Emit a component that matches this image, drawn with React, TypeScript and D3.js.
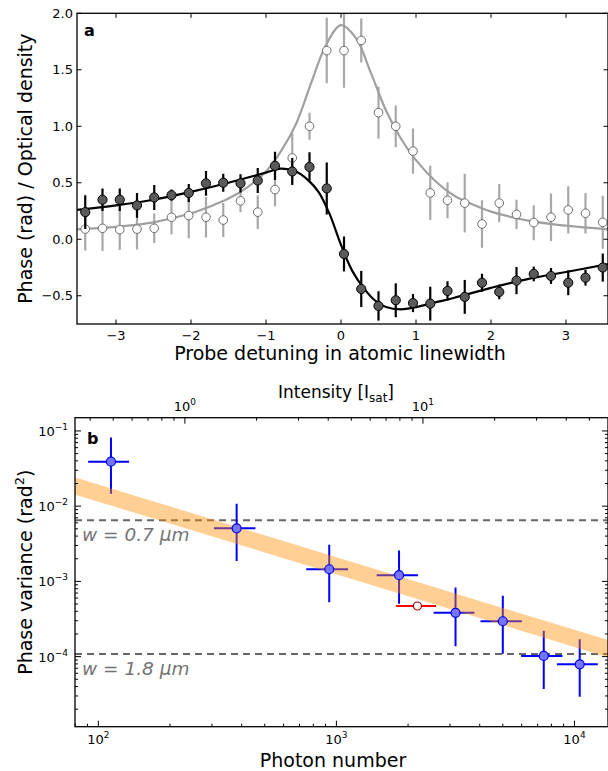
import * as d3 from 'd3';

// ---- panel a data ----
const detuning = [-3.41, -3.18, -2.95, -2.72, -2.49, -2.26, -2.03, -1.8, -1.57, -1.34, -1.11, -0.88, -0.65, -0.42, -0.19, 0.04, 0.27, 0.5, 0.73, 0.96, 1.19, 1.42, 1.65, 1.88, 2.11, 2.34, 2.57, 2.8, 3.03, 3.26, 3.49];
const phase = [0.24, 0.35, 0.35, 0.3, 0.37, 0.39, 0.41, 0.495, 0.5, 0.495, 0.52, 0.65, 0.6, 0.64, 0.45, -0.13, -0.44, -0.59, -0.54, -0.565, -0.57, -0.457, -0.51, -0.385, -0.466, -0.366, -0.307, -0.325, -0.385, -0.34, -0.25];
const phaseErr = [0.15, 0.1, 0.1, 0.11, 0.11, 0.05, 0.08, 0.11, 0.08, 0.08, 0.11, 0.125, 0.12, 0.13, 0.23, 0.155, 0.16, 0.13, 0.15, 0.08, 0.15, 0.085, 0.15, 0.08, 0.065, 0.12, 0.065, 0.07, 0.11, 0.07, 0.125];
const od = [0.09, 0.097, 0.085, 0.09, 0.097, 0.195, 0.21, 0.195, 0.17, 0.34, 0.24, 0.44, 0.72, 1.0, 1.67, 1.67, 1.76, 1.12, 1.0, 0.78, 0.41, 0.345, 0.32, 0.135, 0.32, 0.22, 0.147, 0.195, 0.26, 0.23, 0.15];
const odErr = [0.19, 0.2, 0.18, 0.18, 0.13, 0.15, 0.2, 0.18, 0.15, 0.1, 0.15, 0.15, 0.22, 0.12, 0.29, 0.33, 0.195, 0.23, 0.185, 0.2, 0.24, 0.16, 0.26, 0.21, 0.17, 0.13, 0.155, 0.21, 0.21, 0.18, 0.235];

// fitted curves
const odFitX = [-3.52, -3, -2.5, -2, -1.75, -1.5, -1.25, -1.0, -0.8, -0.6, -0.4, -0.2, 0, 0.2, 0.4, 0.6, 0.8, 1.0, 1.25, 1.5, 1.75, 2, 2.5, 3, 3.56];
const odFitY = [0.088, 0.11, 0.15, 0.23, 0.29, 0.36, 0.46, 0.6, 0.78, 1.02, 1.38, 1.72, 1.895, 1.78, 1.47, 1.14, 0.89, 0.7, 0.52, 0.39, 0.31, 0.245, 0.165, 0.12, 0.088];
const phaseFitX = [-3.52, -3, -2.5, -2, -1.5, -1.0, -0.8, -0.6, -0.45, -0.3, -0.15, 0, 0.15, 0.3, 0.45, 0.6, 0.8, 1.0, 1.25, 1.5, 2, 2.5, 3, 3.56];
const phaseFitY = [0.26, 0.3, 0.35, 0.42, 0.5, 0.59, 0.625, 0.6, 0.53, 0.42, 0.22, -0.05, -0.28, -0.43, -0.54, -0.6, -0.62, -0.6, -0.56, -0.52, -0.43, -0.35, -0.29, -0.22];

const aXTicks = [-3, -2, -1, 0, 1, 2, 3];
const aYTicks = [-0.5, 0, 0.5, 1.0, 1.5, 2.0];

// ---- panel b data ----
const photonN = [113, 381, 933, 1833, 3165, 5000, 7430, 10520];
const photonLo = [90.6, 306, 747, 1476, 2560, 4030, 5970, 8440];
const photonHi = [134.6, 457, 1120, 2200, 3800, 6010, 8900, 12530];
const variance = [0.039, 5.07e-3, 1.45e-3, 1.21e-3, 3.82e-4, 2.95e-4, 1.02e-4, 7.9e-5];
const varLo = [0.0146, 1.86e-3, 5.3e-4, 5.06e-4, 1.37e-4, 1.09e-4, 3.7e-5, 2.93e-5];
const varHi = [0.0816, 0.01076, 3.07e-3, 2.57e-3, 8.3e-4, 6.45e-4, 2.21e-4, 1.7e-4];

const redN = [2190];
const redLo = [1780];
const redHi = [2620];
const redVar = [4.71e-4];

const bandN = [80, 14000];
const bandVar = [0.0185, 1.26e-4];
const bandFactor = 1.3;

const limitVar = [6.5e-3, 1.08e-4];
const limitLabel = ['w = 0.7 μm', 'w = 1.8 μm'];

const photonsPerIsat = 231;
const bXTicks = [2, 3, 4];
const bYTicks = [-1, -2, -3, -4];
const intensityTicks = [0, 1];

const FONT = 'DejaVu Sans';

const W = 608;
const H = 771;

const xA = d3.scaleLinear().domain([-3.52, 3.56]).range([77, 608]);
const yA = d3.scaleLinear().domain([-0.75, 2.0]).range([324, 13.3]);
const xB = d3.scaleLog().domain([79.8, 13830]).range([75, 608]);
const yB = d3.scaleLog().domain([1.17e-5, 0.15]).range([726.7, 417.7]);
const xI = d3.scaleLog().domain([79.8 / photonsPerIsat, 13830 / photonsPerIsat]).range([75, 608]);

const minus = (s: string) => s.replace('-', '\u2212');

const logMinors = (domain: number[]) => {
  const out: number[] = [];
  const lo = Math.floor(Math.log10(domain[0]));
  const hi = Math.ceil(Math.log10(domain[1]));
  for (let k = lo; k <= hi; k++) {
    for (let m = 2; m <= 9; m++) {
      const v = m * Math.pow(10, k);
      if (v >= domain[0] && v <= domain[1]) out.push(v);
    }
  }
  return out;
};

const Pow = ({ x, y, exp, anchor = 'middle' }: any) => (
  <text x={x} y={y} textAnchor={anchor} fontSize={13} fontFamily={FONT} fill="#000">
    <tspan>10</tspan>
    <tspan dy={-6} fontSize={9}>{minus(String(exp))}</tspan>
  </text>
);

export default function App() {
  const fitLine = d3.line<number>().curve(d3.curveCatmullRom.alpha(0.5));
  const odPath = fitLine(odFitX.map((x, i) => [xA(x), yA(odFitY[i])]) as any);
  const phasePath = fitLine(phaseFitX.map((x, i) => [xA(x), yA(phaseFitY[i])]) as any);

  const [aL, aR] = xA.range();
  const [aB, aT] = yA.range();
  const [bL, bR] = xB.range();
  const [bB, bT] = yB.range();

  const band = d3.area<number>()
    .x((d) => xB(bandN[d]))
    .y0((d) => yB(bandVar[d] / bandFactor))
    .y1((d) => yB(bandVar[d] * bandFactor));
  const bandPath = band([0, 1]);

  const xMinors = logMinors(xB.domain());
  const yMinors = logMinors(yB.domain());
  const iMinors = logMinors(xI.domain());

  return (
    <svg width={W} height={H} style={{ position: 'absolute', left: 0, top: 0, background: '#fff' }}
      fontFamily={FONT}>
      <defs>
        <clipPath id="clipA"><rect x={aL} y={aT} width={aR - aL} height={aB - aT} /></clipPath>
        <clipPath id="clipB"><rect x={bL} y={bT} width={bR - bL} height={bB - bT} /></clipPath>
      </defs>

      {/* ===== PANEL A ===== */}
      <g clipPath="url(#clipA)">
        {/* open points: optical density */}
        {detuning.map((x, i) => (
          <line key={'oe' + i} x1={xA(x)} x2={xA(x)} y1={yA(od[i] - odErr[i])} y2={yA(od[i] + odErr[i])}
            stroke="#a8a8a8" strokeWidth={2.2} />
        ))}
        <path d={odPath || ''} fill="none" stroke="#a0a0a0" strokeWidth={2.2} />
        {detuning.map((x, i) => (
          <circle key={'oc' + i} cx={xA(x)} cy={yA(od[i])} r={4.3} fill="#fff" stroke="#6e6e6e" strokeWidth={1} />
        ))}
        {/* filled points: phase */}
        {detuning.map((x, i) => (
          <line key={'pe' + i} x1={xA(x)} x2={xA(x)} y1={yA(phase[i] - phaseErr[i])} y2={yA(phase[i] + phaseErr[i])}
            stroke="#000" strokeWidth={2.2} />
        ))}
        <path d={phasePath || ''} fill="none" stroke="#000" strokeWidth={2.2} />
        {detuning.map((x, i) => (
          <circle key={'pc' + i} cx={xA(x)} cy={yA(phase[i])} r={4.6} fill="#5a5a5a" stroke="#000" strokeWidth={1} />
        ))}
      </g>

      {/* axes a */}
      <g stroke="#000" strokeWidth={1}>
        {aXTicks.map((t) => (
          <g key={'axt' + t}>
            <line x1={xA(t)} x2={xA(t)} y1={aB} y2={aB - 4.5} />
            <line x1={xA(t)} x2={xA(t)} y1={aT} y2={aT + 4.5} />
          </g>
        ))}
        {aYTicks.map((t) => (
          <g key={'ayt' + t}>
            <line x1={aL} x2={aL + 4.5} y1={yA(t)} y2={yA(t)} />
            <line x1={aR} x2={aR - 4.5} y1={yA(t)} y2={yA(t)} />
          </g>
        ))}
        <rect x={aL} y={aT} width={aR - aL} height={aB - aT} fill="none" strokeWidth={1.3} />
      </g>
      {aXTicks.map((t) => (
        <text key={'axl' + t} x={xA(t)} y={aB + 16} textAnchor="middle" fontSize={13}>{minus(String(t))}</text>
      ))}
      {aYTicks.map((t) => (
        <text key={'ayl' + t} x={aL - 4} y={yA(t) + 4.5} textAnchor="end" fontSize={13}>{minus(t.toFixed(1))}</text>
      ))}
      <text x={340} y={360} textAnchor="middle" fontSize={19}>Probe detuning in atomic linewidth</text>
      <text transform={`translate(32,${(aT + aB) / 2}) rotate(-90)`} textAnchor="middle" fontSize={19}>
        Phase (rad) / Optical density
      </text>
      <text x={84} y={36} fontSize={16} fontWeight="bold">a</text>

      {/* ===== PANEL B ===== */}
      <g clipPath="url(#clipB)">
        {limitVar.map((v, i) => (
          <line key={'lim' + i} x1={bL} x2={bR} y1={yB(v)} y2={yB(v)} stroke="#666" strokeWidth={2}
            strokeDasharray="7,5" />
        ))}
        {photonN.map((n, i) => (
          <g key={'be' + i} stroke="#0000ff" strokeWidth={2}>
            <line x1={xB(photonLo[i])} x2={xB(photonHi[i])} y1={yB(variance[i])} y2={yB(variance[i])} />
            <line x1={xB(n)} x2={xB(n)} y1={yB(varLo[i])} y2={yB(varHi[i])} />
          </g>
        ))}
        {redN.map((n, i) => (
          <line key={'re' + i} x1={xB(redLo[i])} x2={xB(redHi[i])} y1={yB(redVar[i])} y2={yB(redVar[i])}
            stroke="#ff0000" strokeWidth={2} />
        ))}
        <path d={bandPath || ''} fill="#ff8c00" fillOpacity={0.42} stroke="none" />
        {photonN.map((n, i) => (
          <circle key={'bc' + i} cx={xB(n)} cy={yB(variance[i])} r={4.5} fill="#7575ff" stroke="#0000ee" strokeWidth={1.2} />
        ))}
        {redN.map((n, i) => (
          <circle key={'rc' + i} cx={xB(n)} cy={yB(redVar[i])} r={4} fill="#fff" stroke="#a00000" strokeWidth={1.2} />
        ))}
      </g>
      {limitLabel.map((s, i) => (
        <text key={'ll' + i} x={82} y={yB(limitVar[i]) + 21} fontSize={18.5} fontStyle="italic" fill="#747474">{s}</text>
      ))}

      {/* axes b */}
      <g stroke="#000" strokeWidth={1}>
        {bXTicks.map((k) => (
          <line key={'bxt' + k} x1={xB(Math.pow(10, k))} x2={xB(Math.pow(10, k))} y1={bB} y2={bB - 6} />
        ))}
        {xMinors.map((v) => (
          <line key={'bxm' + v} x1={xB(v)} x2={xB(v)} y1={bB} y2={bB - 3} />
        ))}
        {intensityTicks.map((k) => (
          <line key={'bit' + k} x1={xI(Math.pow(10, k))} x2={xI(Math.pow(10, k))} y1={bT} y2={bT + 6} />
        ))}
        {iMinors.map((v) => (
          <line key={'bim' + v} x1={xI(v)} x2={xI(v)} y1={bT} y2={bT + 3} />
        ))}
        {bYTicks.map((k) => (
          <g key={'byt' + k}>
            <line x1={bL} x2={bL + 6} y1={yB(Math.pow(10, k))} y2={yB(Math.pow(10, k))} />
            <line x1={bR} x2={bR - 6} y1={yB(Math.pow(10, k))} y2={yB(Math.pow(10, k))} />
          </g>
        ))}
        {yMinors.map((v) => (
          <g key={'bym' + v}>
            <line x1={bL} x2={bL + 3} y1={yB(v)} y2={yB(v)} />
            <line x1={bR} x2={bR - 3} y1={yB(v)} y2={yB(v)} />
          </g>
        ))}
        <rect x={bL} y={bT} width={bR - bL} height={bB - bT} fill="none" strokeWidth={1.3} />
      </g>
      {bXTicks.map((k) => (
        <Pow key={'bxl' + k} x={xB(Math.pow(10, k))} y={bB + 17.5} exp={k} />
      ))}
      {intensityTicks.map((k) => (
        <Pow key={'bil' + k} x={xI(Math.pow(10, k))} y={bT - 7} exp={k} />
      ))}
      {bYTicks.map((k) => (
        <Pow key={'byl' + k} x={bL - 7} y={yB(Math.pow(10, k)) + 5} exp={k} anchor="end" />
      ))}
      <text x={333} y={767} textAnchor="middle" fontSize={19}>Photon number</text>
      <text x={336} y={398} textAnchor="middle" fontSize={17}>
        <tspan>Intensity [I</tspan>
        <tspan dy={4} fontSize={12}>sat</tspan>
        <tspan dy={-4}>]</tspan>
      </text>
      <text transform={`translate(32,${(bT + bB) / 2}) rotate(-90)`} textAnchor="middle" fontSize={19}>
        <tspan>Phase variance (rad</tspan>
        <tspan dy={-8} fontSize={13}>2</tspan>
        <tspan dy={8}>)</tspan>
      </text>
      <text x={87} y={444} fontSize={16} fontWeight="bold">b</text>
    </svg>
  );
}
